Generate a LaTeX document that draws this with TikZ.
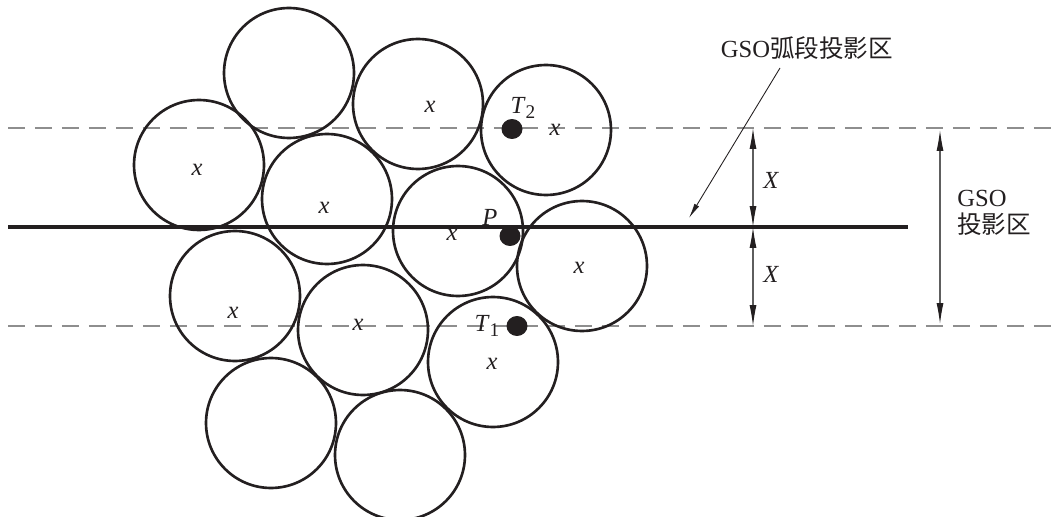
\documentclass[tikz,border=0pt]{standalone}
\usepackage{fontspec}
\setmainfont{Liberation Serif}
\newfontfamily\cjkfont{Noto Sans CJK SC}
\usetikzlibrary{arrows.meta,calc,shapes.geometric}
\definecolor{ink}{HTML}{231F20}
\definecolor{guide}{HTML}{8E8E8E}
\definecolor{diml}{HTML}{5E5E5E}

\begin{document}
\begin{tikzpicture}[
  x=0.02cm,y=-0.02cm,
  font=\fontsize{14}{14}\selectfont,
  ball/.style={circle,draw=ink,line width=1.5pt,minimum size=2.6cm,inner sep=0pt},
  dot/.style={ellipse,fill=ink,inner sep=0pt,minimum width=0.42cm,minimum height=0.4cm},
  xlab/.style={font=\fontsize{14}{14}\selectfont\itshape,text=ink,inner sep=0pt},
  txt/.style={text=ink,inner sep=0pt},
  arcline/.style={draw=ink,line width=1.9pt},
  guideline/.style={draw=guide,line width=0.9pt,dash pattern=on 0.34cm off 0.2cm},
  dimarrow/.style={{Latex[length=0.42cm,width=0.14cm,color=ink]}-{Latex[length=0.42cm,width=0.14cm,color=ink]},
                   draw=diml,line width=0.6pt},
  leader/.style={-{Latex[length=0.3cm,width=0.11cm]},draw=ink,line width=0.5pt},
]
\useasboundingbox (0,0) rectangle (1052,517);
\clip (0,0) rectangle (1052,517);

% projection band: GSO arc and its two bounds
\coordinate (hl) at (8,227);   \coordinate (hr) at (908,227);
\coordinate (ul) at (8,128);   \coordinate (ur) at (1052,128);
\coordinate (ll) at (8,326);   \coordinate (lr) at (1052,326);
\draw[guideline] (ul)--(ur);
\draw[guideline] (ll)--(lr);
\draw[arcline] (hl)--(hr);

% packed cross-sections
\node[ball] (b1)  at (289,73)  {};
\node[ball] (b2)  at (418,104) {};
\node[ball] (b3)  at (546,130) {};
\node[ball] (b4)  at (199,165) {};
\node[ball] (b5)  at (327,199) {};
\node[ball] (b6)  at (458,231) {};
\node[ball] (b7)  at (582,266) {};
\node[ball] (b8)  at (235,296) {};
\node[ball] (b9)  at (363,330) {};
\node[ball] (b10) at (493,362) {};
\node[ball] (b11) at (271,423) {};
\node[ball] (b12) at (400,455) {};

% x marks
\node[xlab] (x2)  at (430,107) {x};
\node[xlab] (x3)  at (555,130) {x};
\node[xlab] (x4)  at (197,170) {x};
\node[xlab] (x5)  at (324,208) {x};
\node[xlab] (x6)  at (452,235) {x};
\node[xlab] (x7)  at (579,268) {x};
\node[xlab] (x8)  at (233,313) {x};
\node[xlab] (x9)  at (358,325) {x};
\node[xlab] (x10) at (492,364) {x};

% points
\node[dot] (t2) at (512,129) {};
\node[dot] (p)  at (510,236) {};
\node[dot] (t1) at (517,326) {};
\node[txt] (t2lbl) at (523,108) {\textit{T}\raisebox{-0.45ex}{\fontsize{11}{11}\selectfont 2}};
\node[txt] (plbl)  at (490,217) {\textit{P}};
\node[txt] (t1lbl) at (487,326) {\textit{T}\raisebox{-0.45ex}{\fontsize{11}{11}\selectfont 1}};

% dimensions
\coordinate (xa) at (753,128); \coordinate (xb) at (753,227); \coordinate (xc) at (753,326);
\draw[dimarrow] (xa)--(xb);
\draw[dimarrow] (xb)--(xc);
\node[xlab] (xu) at (771,180) {X};
\node[xlab] (xd) at (771,274) {X};
\coordinate (ga) at (940,130); \coordinate (gb) at (940,324);
\draw[dimarrow] (ga)--(gb);
\node[txt,anchor=west,align=left] (zone) at (957,213) {GSO\\[1pt]{\cjkfont 投影区}};

% arc label and leader
\node[txt] (arclbl) at (807,48) {GSO{\cjkfont 弧段投影区}};
\coordinate (lead) at (780,68); \coordinate (tip) at (689,218);
\draw[leader] (lead)--(tip);
\end{tikzpicture}
\end{document}
